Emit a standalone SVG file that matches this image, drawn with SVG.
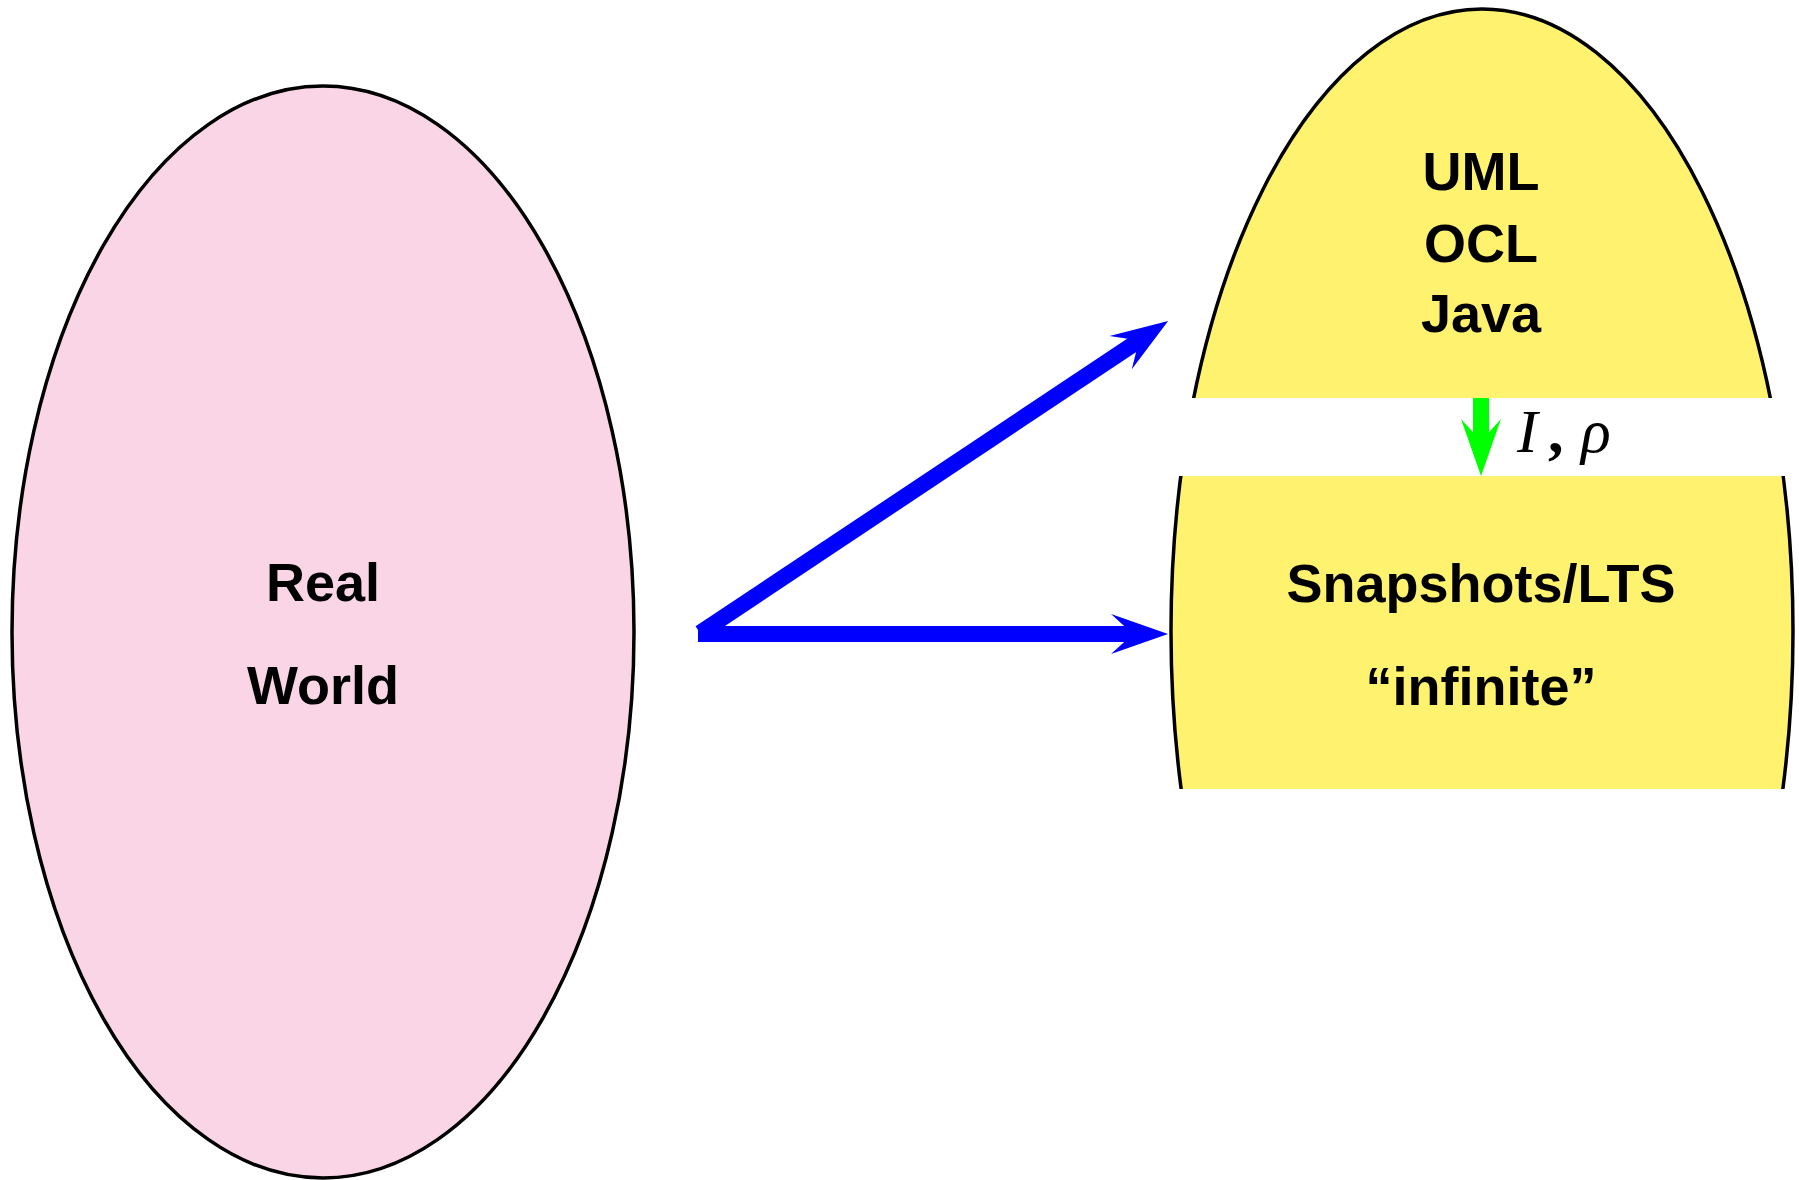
<svg xmlns="http://www.w3.org/2000/svg" width="1799" height="1180" viewBox="0 0 1799 1180">
  <style>
    .outline { stroke: #000; stroke-width: 3.5; }
    .label { font-family: "Liberation Sans", Arial, Helvetica, sans-serif; font-weight: bold; font-size: 54px; fill: #000; text-anchor: middle; }
    .math { font-family: "Liberation Serif", "Times New Roman", serif; font-size: 62px; fill: #000; }
    .shaft { fill: none; stroke-width: 16; stroke-linecap: butt; }
  </style>
  <defs>
    <!-- stealth-style arrowheads: notch at origin, tip 35px ahead -->
    <marker id="head-blue" markerUnits="userSpaceOnUse" markerWidth="80" markerHeight="60" refX="0" refY="0" orient="auto" viewBox="-30 -30 80 60" overflow="visible">
      <path d="M35,0 L-22,-20 L0,0 L-22,20 Z" fill="#0000ff"/>
    </marker>
    <marker id="head-green" markerUnits="userSpaceOnUse" markerWidth="80" markerHeight="60" refX="0" refY="0" orient="auto" viewBox="-30 -30 80 60" overflow="visible">
      <path d="M35,0 L-22,-20 L0,0 L-22,20 Z" fill="#00ff00"/>
    </marker>
    <!-- the model ellipse is shown as two slices with a gap between -->
    <clipPath id="slices" clipPathUnits="userSpaceOnUse">
      <rect x="1100" y="0" width="699" height="398"/>
      <rect x="1100" y="476" width="699" height="313"/>
    </clipPath>
  </defs>

  <g id="real-world">
    <ellipse cx="323" cy="632" rx="311" ry="546" fill="#f9d5e5" class="outline"/>
    <text class="label" x="323" y="601">Real</text>
    <text class="label" x="323" y="704">World</text>
  </g>

  <g id="models">
    <ellipse cx="1482" cy="631" rx="311" ry="622" fill="#fef26e" class="outline" clip-path="url(#slices)"/>
    <text class="label" x="1481" y="190">UML</text>
    <text class="label" x="1481" y="262">OCL</text>
    <text class="label" x="1481" y="332">Java</text>
  </g>

  <g id="semantics">
    <text class="label" x="1481" y="602">Snapshots/LTS</text>
    <text class="label" x="1481" y="705">“infinite”</text>
  </g>

  <g id="connectors">
    <line class="shaft" x1="700" y1="633" x2="1139" y2="340.5" stroke="#0000ff" marker-end="url(#head-blue)"/>
    <line class="shaft" x1="698" y1="634" x2="1133" y2="634" stroke="#0000ff" marker-end="url(#head-blue)"/>
    <line class="shaft" x1="1481" y1="398" x2="1481" y2="441" stroke="#00ff00" stroke-width="15" marker-end="url(#head-green)"/>
    <text class="math" y="452"><tspan x="1517" font-style="italic">I</tspan><tspan x="1548" font-weight="bold">,</tspan><tspan x="1581" font-style="italic">ρ</tspan></text>
  </g>
</svg>
